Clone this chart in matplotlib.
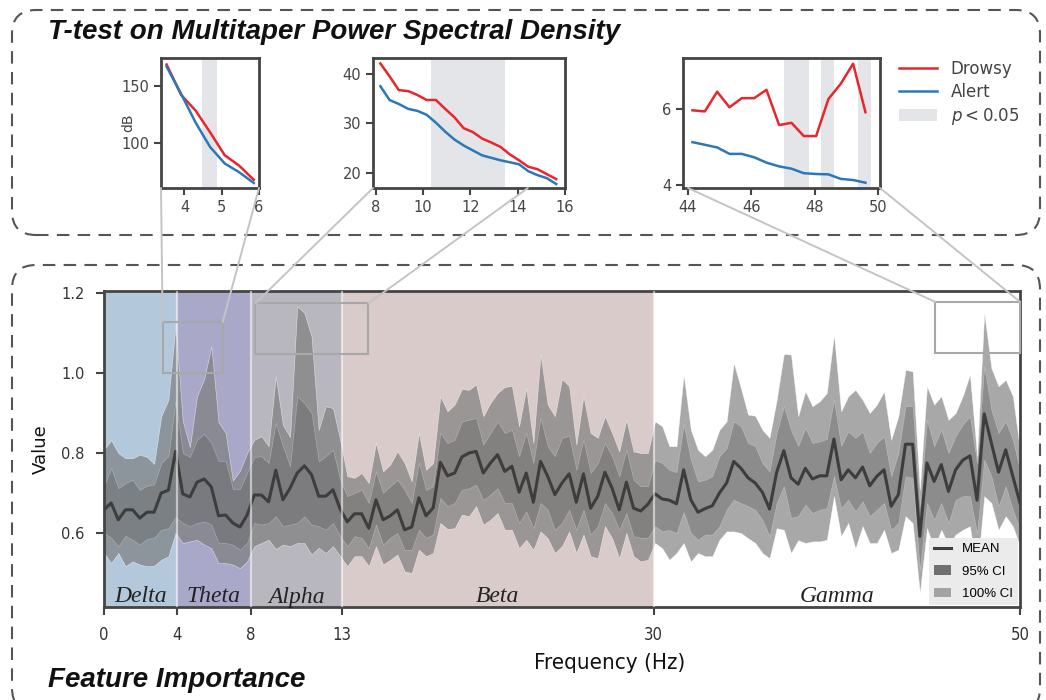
import numpy as np
import matplotlib.pyplot as plt
from matplotlib.patches import FancyBboxPatch, Rectangle, Patch, ConnectionPatch
from matplotlib.lines import Line2D

# ---- feature importance data (0-50 Hz, 129 bins) ----
freq = np.linspace(0, 50, 129)

mean = [.658, .675, .633, .658, .658, .637, .652, .652, .700, .707,
        .804, .698, .690, .727, .735, .715, .643, .645, .625, .615,
        .645, .695, .695, .678, .757, .683, .712, .750, .768, .746,
        .692, .692, .708, .660, .628, .648, .648, .612, .683, .633,
        .643, .658, .608, .615, .688, .643, .663, .777, .743, .750,
        .790, .800, .804, .750, .775, .796, .754, .767, .702, .750,
        .677, .779, .742, .696, .725, .748, .677, .748, .662, .692,
        .752, .712, .658, .727, .662, .655, .672, .698, .685, .682,
        .673, .758, .683, .652, .661, .668, .700, .725, .779, .762,
        .738, .725, .702, .660, .752, .806, .738, .722, .762, .735,
        .743, .743, .835, .733, .758, .738, .765, .718, .742, .758,
        .667, .696, .822, .822, .592, .775, .729, .771, .704, .758,
        .782, .793, .682, .898, .825, .752, .808, .742, .675]

ci95_hi = [.717, .762, .712, .725, .733, .708, .718, .721, .775, .792,
           .930, .800, .790, .833, .848, .825, .780, .780, .710, .710,
           .750, .790, .792, .775, .875, .817, .767, .942, .925, .900,
           .779, .792, .808, .733, .692, .700, .708, .675, .754, .700,
           .717, .733, .708, .675, .775, .708, .717, .850, .825, .833,
           .879, .883, .888, .821, .850, .879, .850, .858, .792, .850,
           .775, .888, .817, .792, .838, .843, .758, .833, .750, .775,
           .825, .792, .742, .808, .733, .717, .717, .782, .775, .758,
           .752, .871, .783, .729, .733, .742, .792, .812, .879, .867,
           .825, .817, .775, .754, .850, .917, .858, .817, .863, .825,
           .829, .835, .933, .817, .854, .838, .854, .800, .825, .842,
           .742, .800, .917, .917, .667, .883, .817, .858, .800, .842,
           .871, .892, .775, 1.017, .908, .850, .879, .833, .758]

ci95_lo = [.600, .588, .567, .593, .583, .571, .585, .588, .608, .612,
           .640, .625, .617, .625, .629, .621, .575, .575, .571, .558,
           .575, .625, .621, .625, .642, .617, .621, .625, .642, .621,
           .617, .608, .625, .592, .567, .592, .588, .562, .621, .571,
           .588, .600, .558, .558, .608, .588, .596, .688, .667, .675,
           .708, .712, .721, .683, .696, .712, .675, .675, .625, .654,
           .612, .675, .658, .608, .625, .658, .608, .658, .596, .617,
           .675, .650, .608, .650, .592, .588, .588, .617, .604, .608,
           .600, .652, .600, .583, .596, .596, .617, .658, .683, .675,
           .667, .658, .633, .592, .675, .717, .638, .642, .671, .650,
           .658, .662, .742, .662, .683, .654, .679, .642, .658, .675,
           .608, .625, .742, .738, .508, .675, .633, .675, .625, .683,
           .692, .692, .600, .783, .742, .667, .717, .658, .608]

ci100_hi = [.808, .832, .800, .787, .787, .796, .790, .773, .892, .933,
            1.120, .880, .815, .942, .985, 1.067, .877, .850, .731, .756,
            .800, .833, .842, .817, .992, .870, .840, 1.167, 1.150, 1.092,
            .858, .917, .912, .833, .742, .738, .750, .725, .825, .754,
            .771, .804, .775, .729, .850, .758, .775, .942, .904, .921,
            .960, .958, .971, .892, .925, .950, .965, .968, .867, .962,
            .825, 1.046, .921, .892, .985, .967, .821, .942, .850, .838,
            .892, .850, .804, .883, .804, .800, .800, .879, .867, .817,
            .817, .996, .858, .808, .792, .808, .858, .879, 1.025, .962,
            .896, .893, .858, .838, .933, 1.048, 1.046, .892, .954, .917,
            .929, .950, 1.096, .904, .942, .958, .933, .900, .921, .954,
            .833, .892, 1.008, 1.004, .708, .967, .921, .942, .883, .900,
            .942, .996, .792, 1.150, 1.012, .967, .983, .942, .808]

ci100_lo = [.550, .525, .550, .517, .529, .521, .517, .518, .533, .542,
            .600, .575, .579, .583, .571, .562, .525, .525, .521, .512,
            .529, .567, .575, .583, .560, .571, .567, .575, .575, .546,
            .563, .550, .567, .542, .517, .542, .542, .517, .567, .521,
            .533, .546, .504, .500, .558, .542, .550, .625, .610, .612,
            .646, .642, .667, .621, .633, .650, .608, .608, .562, .583,
            .558, .604, .587, .550, .567, .604, .550, .596, .542, .537,
            .617, .587, .537, .600, .542, .529, .533, .575, .562, .533,
            .550, .575, .529, .550, .542, .542, .583, .604, .604, .600,
            .587, .575, .550, .537, .612, .608, .550, .582, .575, .579,
            .579, .583, .692, .592, .625, .562, .617, .575, .575, .608,
            .550, .558, .642, .625, .450, .612, .562, .608, .571, .596,
            .608, .617, .500, .692, .675, .608, .642, .617, .567]

bands = ['Delta', 'Theta', 'Alpha', 'Beta', 'Gamma']
band_edges = [0, 4, 8, 13, 30, 50]
band_colors = ['#b3c9db', '#a9a8c8', '#b8b7bf', '#d8cbc9', 'white']

# ---- t-test insets (dB) ----
f_theta = [3.52, 3.91, 4.30, 4.69, 5.08, 5.47, 5.86]
drowsy_theta = [169.0, 142.2, 128.4, 109.2, 89.1, 79.9, 67.5]
alert_theta = [167.2, 143.1, 117.8, 96.3, 81.9, 74.1, 64.7]
sig_theta = [(4.48, 4.87)]

f_alpha = [8.20, 8.59, 8.98, 9.38, 9.77, 10.16, 10.55, 10.94, 11.33, 11.72,
           12.11, 12.50, 12.89, 13.28, 13.67, 14.06, 14.45, 14.84, 15.23, 15.63]
drowsy_alpha = [42.1, 39.5, 36.7, 36.5, 35.7, 34.7, 34.7, 32.9, 31.2, 29.0,
                28.2, 26.9, 26.1, 25.2, 23.7, 22.5, 21.2, 20.7, 19.7, 18.7]
alert_alpha = [37.5, 34.7, 33.9, 32.9, 32.5, 31.7, 30.1, 28.3, 26.7, 25.5,
               24.5, 23.5, 23.0, 22.5, 22.1, 21.7, 20.3, 19.5, 18.9, 17.7]
sig_alpha = [(10.36, 13.48)]

f_gamma = [44.14, 44.53, 44.92, 45.31, 45.70, 46.09, 46.48, 46.88, 47.27,
           47.66, 48.05, 48.44, 48.83, 49.22, 49.61]
drowsy_gamma = [5.96, 5.93, 6.45, 6.04, 6.28, 6.28, 6.50, 5.57, 5.63,
                5.28, 5.28, 6.26, 6.66, 7.19, 5.91]
alert_gamma = [5.12, 5.05, 4.98, 4.81, 4.81, 4.72, 4.58, 4.48, 4.42,
               4.30, 4.28, 4.27, 4.15, 4.12, 4.05]
sig_gamma = [(47.03, 47.84), (48.19, 48.61), (49.39, 49.80)]

W, H = 1046, 700
RED, BLUE, SHADE = '#e8262b', '#2a78b8', '#e4e5e8'
SPINE = '#444444'
NARROW = dict(family=['Liberation Sans Narrow', 'DejaVu Sans'], stretch='condensed')

fig = plt.figure(figsize=(W / 100, H / 100), dpi=100)


def px_axes(x0, y0, x1, y1):
    return fig.add_axes([x0 / W, 1 - y1 / H, (x1 - x0) / W, (y1 - y0) / H])


# dashed frames
for (y0, y1) in [(10, 235), (265, 712)]:
    box = FancyBboxPatch((0.12, (H - y1) / 100), 10.28, (y1 - y0) / 100,
                         boxstyle='round,pad=0,rounding_size=0.24',
                         transform=fig.dpi_scale_trans, fc='none', ec='#555555',
                         lw=1.5, ls=(0, (6, 4)), zorder=-5)
    fig.add_artist(box)

fig.text(48 / W, 1 - 32 / H, 'T-test on Multitaper Power Spectral Density',
         fontsize=20, weight='bold', style='italic', family='Liberation Sans',
         ha='left', va='center', color='#111111')
fig.text(48 / W, 1 - 680 / H, 'Feature Importance',
         fontsize=20, weight='bold', style='italic', family='Liberation Sans',
         ha='left', va='center', color='#111111')

# ---- main plot ----
ax = px_axes(104, 291, 1020, 607)
for i in range(len(bands)):
    ax.axvspan(band_edges[i], band_edges[i + 1], color=band_colors[i], lw=0, zorder=0)
ax.fill_between(freq, ci100_lo, ci100_hi, facecolor='#7a7a7a', alpha=0.65,
                edgecolor='white', lw=0.4, zorder=1)
ax.fill_between(freq, ci95_lo, ci95_hi, facecolor='#5a5a5a', alpha=0.35,
                edgecolor='white', lw=0.4, zorder=2)
ax.plot(freq, mean, color='#3d3d3d', lw=2.2, zorder=3)
for e in band_edges[1:-1]:
    ax.axvline(e, color='white', lw=1.6, alpha=0.55, zorder=4)
for i, name in enumerate(bands):
    ax.text((band_edges[i] + band_edges[i + 1]) / 2, 0.44, name, style='italic',
            family='Liberation Serif', fontsize=17, ha='center', va='center',
            color='#222222', zorder=6)

rects = [(3.2, 1.0, 6.48, 1.128), (8.26, 1.047, 14.43, 1.174), (45.36, 1.05, 50.0, 1.178)]
for (x0, y0, x1, y1) in rects:
    ax.add_patch(Rectangle((x0, y0), x1 - x0, y1 - y0, fill=False, ec='#a8a8a8',
                           lw=1.5, zorder=5, clip_on=False))

ax.set_xlim(0, 50)
ax.set_ylim(0.415, 1.205)
ax.set_xticks(band_edges)
ax.set_yticks([0.6, 0.8, 1.0, 1.2])
ax.set_yticklabels(['0.6', '0.8', '1.0', '1.2'])
for lab in ax.get_xticklabels():
    lab.set_fontproperties(NARROW)
    lab.set_fontsize(12)
for lab in ax.get_yticklabels():
    lab.set_fontsize(10.5)
ax.tick_params(length=6, width=1.5, color=SPINE, labelcolor='#333333', pad=8)
for s in ax.spines.values():
    s.set_color(SPINE)
    s.set_linewidth(2)
ax.set_xlabel('Frequency (Hz)', fontsize=16, color='#111111', labelpad=6, **NARROW)
ax.xaxis.label.set_x(0.552)
ax.set_ylabel('Value', fontsize=13, color='#111111', labelpad=8)

handles = [Line2D([], [], color='#3d3d3d', lw=2.2, label='MEAN'),
           Patch(fc='#707070', label='95% CI'),
           Patch(fc='#a3a3a3', label='100% CI')]
leg = ax.legend(handles=handles, loc='lower right', frameon=True, facecolor='#ebebeb',
                edgecolor='none', framealpha=1, fancybox=False,
                prop={'family': 'Liberation Sans', 'size': 9.5},
                borderaxespad=0.15, handlelength=1.3, labelspacing=0.75)
leg.set_zorder(10)

# ---- insets ----
insets = [
    ((161, 58, 259, 188), f_theta, drowsy_theta, alert_theta, sig_theta,
     (3.37, 6.0), (60.3, 174.7), [4, 5, 6], [100, 150]),
    ((373, 58, 565, 188), f_alpha, drowsy_alpha, alert_alpha, sig_alpha,
     (7.89, 16.0), (16.9, 43.2), [8, 10, 12, 14, 16], [20, 30, 40]),
    ((683, 58, 880, 188), f_gamma, drowsy_gamma, alert_gamma, sig_gamma,
     (43.84, 50.07), (3.91, 7.34), [44, 46, 48, 50], [4, 6]),
]
inset_axes = []
for (box, f, dr, al, sig, xl, yl, xt, yt) in insets:
    ia = px_axes(*box)
    for (a, b) in sig:
        ia.axvspan(a, b, color=SHADE, lw=0, zorder=0)
    ia.plot(f, dr, color=RED, lw=1.8, zorder=2)
    ia.plot(f, al, color=BLUE, lw=1.8, zorder=2)
    ia.set_xlim(*xl)
    ia.set_ylim(*yl)
    ia.set_xticks(xt)
    ia.set_yticks(yt)
    ia.tick_params(labelsize=10.5, length=5, width=1.5, color=SPINE, labelcolor='#444444')
    for s in ia.spines.values():
        s.set_color(SPINE)
        s.set_linewidth(2)
    inset_axes.append(ia)
inset_axes[0].set_ylabel('dB', fontsize=10, color='#444444', labelpad=-10)

fig.legend(handles=[Line2D([], [], color=RED, lw=1.8, label='Drowsy'),
                    Line2D([], [], color=BLUE, lw=1.8, label='Alert'),
                    Patch(fc=SHADE, label=r'$p < 0.05$')],
           loc='upper left', bbox_to_anchor=(884 / W, 1 - 45 / H), frameon=False,
           fontsize=12, labelcolor='#444444', handlelength=2.3, labelspacing=0.3)

# connector lines from zoom rectangles to insets
links = [(0, (3.37, 60.3), (3.2, 1.128)), (0, (6.0, 60.3), (6.48, 1.128)),
         (1, (7.89, 16.9), (8.26, 1.174)), (1, (14.43, 16.9), (14.43, 1.174)),
         (2, (44.0, 3.91), (45.36, 1.178)), (2, (50.07, 3.91), (50.0, 1.178))]
for (i, pa, pb) in links:
    cp = ConnectionPatch(xyA=pa, coordsA=inset_axes[i].transData,
                         xyB=pb, coordsB=ax.transData, color='#c4c4c4', lw=1.4)
    fig.add_artist(cp)

fig.savefig('out.png', dpi=100)
